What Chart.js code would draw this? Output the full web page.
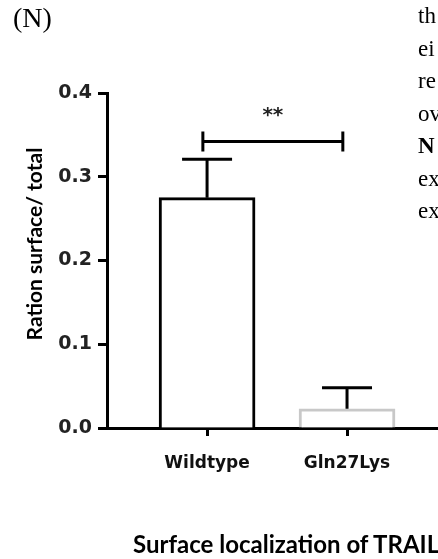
<!DOCTYPE html>
<html>
<head>
<meta charset="utf-8">
<script src="https://cdn.jsdelivr.net/npm/chart.js@4.4.1/dist/chart.umd.min.js"></script>
<style>
  html, body { margin: 0; padding: 0; background: #fff; overflow: hidden; }
  body { width: 438px; height: 559px; position: relative; }
  #chart { position: absolute; left: 0; top: 0; }
  .txt { position: absolute; white-space: nowrap; color: #000; }
  #panel { left: 13px; top: 2px; font: 28px "Liberation Serif", serif; }
  #side { left: 418px; top: 0; font: 23px/32.5px "Liberation Serif", serif; }
  #ytitle { left: 33px; top: 244px; font: bold 21px Lato, sans-serif;
            transform: translate(-50%, -50%) rotate(-90deg); }
  #title { left: 133px; top: 529px; font: bold 24px Lato, sans-serif; }
</style>
</head>
<body>
<canvas id="chart" width="438" height="559"></canvas>
<div class="txt" id="panel">(N)</div>
<div class="txt" id="side">th<br>ei<br>re<br>ov<br><b>N</b><br>ex<br>ex</div>
<div class="txt" id="ytitle">Ration surface/ total</div>
<div class="txt" id="title">Surface localization of TRAIL</div>
<script>
// data
const categories = ["Wildtype", "Gln27Lys"];
const xPos = [1, 2];
const means = [0.275, 0.023];
const errors = [0.046, 0.025];
const barColors = ["#000000", "#c8c8c8"];
const yTicks = [0, 0.1, 0.2, 0.3, 0.4];
const sigFrom = 0.97, sigTo = 1.97, sigY = 0.342, sigLabel = "**";

const ctx = document.querySelector("#chart").getContext("2d");

// error bars + significance bracket, drawn through the chart's scales
const extras = {
  id: "extras",
  afterDatasetsDraw(chart) {
    const { ctx, scales: { x, y } } = chart;
    ctx.save();
    ctx.strokeStyle = "#000";
    ctx.lineWidth = 3;
    xPos.forEach((v, i) => {
      const px = x.getPixelForValue(v);
      const top = y.getPixelForValue(means[i]);
      const end = y.getPixelForValue(means[i] + errors[i]);
      ctx.beginPath();
      ctx.moveTo(px, top);
      ctx.lineTo(px, end);
      ctx.moveTo(px - 25, end);
      ctx.lineTo(px + 25, end);
      ctx.stroke();
    });
    const x1 = x.getPixelForValue(sigFrom);
    const x2 = x.getPixelForValue(sigTo);
    const by = y.getPixelForValue(sigY);
    ctx.beginPath();
    ctx.moveTo(x1, by); ctx.lineTo(x2, by);
    ctx.moveTo(x1, by - 10); ctx.lineTo(x1, by + 10);
    ctx.moveTo(x2, by - 10); ctx.lineTo(x2, by + 10);
    ctx.stroke();
    ctx.fillStyle = "#222";
    ctx.font = "bold 20px 'DejaVu Sans'";
    ctx.textAlign = "center";
    ctx.textBaseline = "alphabetic";
    ctx.fillText(sigLabel, (x1 + x2) / 2, by - 21);
    ctx.restore();
  }
};

new Chart(ctx, {
  type: "bar",
  data: {
    datasets: [{
      data: xPos.map((v, i) => ({ x: v, y: means[i] })),
      backgroundColor: "#ffffff",
      borderColor: barColors,
      borderWidth: 3,
      borderSkipped: "start",
      barThickness: 96
    }]
  },
  options: {
    responsive: false,
    animation: false,
    devicePixelRatio: 1,
    layout: { padding: { top: 93, right: 0, bottom: 0, left: 0 } },
    plugins: { legend: { display: false }, tooltip: { enabled: false } },
    scales: {
      x: {
        type: "linear",
        offset: false,
        min: 0.285,
        max: 2.65,
        afterFit: (s) => { s.height = 131; },
        afterBuildTicks: (s) => { s.ticks = xPos.map(v => ({ value: v })); },
        grid: { offset: false, drawOnChartArea: false, drawTicks: true, tickLength: 8, tickWidth: 3, tickColor: "#000" },
        border: { display: true, color: "#000", width: 3 },
        ticks: {
          padding: 17,
          color: "#111",
          font: { family: "DejaVu Sans", weight: "bold", size: 17 },
          callback: (v) => categories[xPos.indexOf(v)] || ""
        }
      },
      y: {
        min: 0,
        max: 0.4,
        afterFit: (s) => { s.width = 107; },
        afterBuildTicks: (s) => { s.ticks = yTicks.map(v => ({ value: v })); },
        grid: { drawOnChartArea: false, drawTicks: true, tickLength: 9, tickWidth: 3, tickColor: "#000" },
        border: { display: true, color: "#000", width: 3 },
        ticks: {
          padding: 6,
          color: "#222",
          font: { family: "DejaVu Sans", weight: "bold", size: 19 },
          callback: (v) => v.toFixed(1)
        }
      }
    }
  },
  plugins: [extras]
});
</script>
</body>
</html>
